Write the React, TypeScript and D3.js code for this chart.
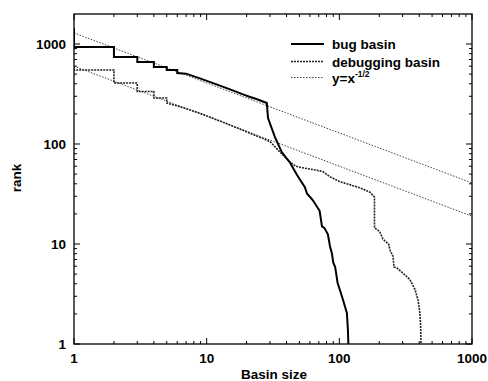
import React from "react";
import * as d3 from "d3";

// Bug basin: (size, rank) points of the stepped rank curve
const bugSize = [1, 1, 2, 2, 3, 3, 4, 4, 5, 5, 6, 6, 7, 9, 12, 15, 19, 21, 24, 28.4, 29, 32.7, 36.8, 42.5, 48, 50, 55, 57, 63, 71, 74, 77, 82, 85, 88, 90, 93, 97, 105, 114, 116, 117];
const bugRank = [1445, 933, 933, 741, 741, 660, 660, 589, 589, 550, 550, 513, 505, 450, 392, 352, 312, 297, 280, 257, 182, 117, 83, 65, 49, 45, 37, 32, 27.5, 21.5, 15, 14.5, 12.5, 9.5, 8, 6.5, 5.9, 4.1, 2.95, 2.04, 1.4, 1];

// Debugging basin
const dbgSize = [1, 1, 2, 2, 3, 3, 4, 4, 5, 5, 6.3, 9, 15, 22.5, 30, 35.7, 42.5, 47, 52, 66, 75, 85, 101, 143, 170, 184, 184, 202, 213, 235, 241, 254, 258, 272, 302, 341, 372, 392, 405, 410, 413];
const dbgRank = [600, 550, 550, 407, 407, 335, 335, 288, 288, 257, 236, 202, 155, 124, 106, 83, 66, 60, 58, 55, 53, 47, 42, 36.5, 33, 29.5, 14.6, 13.2, 11.2, 10, 8.7, 7.5, 5.9, 5.75, 5.1, 4.4, 3.5, 2.75, 2.04, 1.5, 1];

// Reference lines y = c * x^(-1/2)
const refCoefs = [1290, 600];
const refExponent = -0.5;

const xTickLabels = ["1", "10", "100", "1000"];
const yTickLabels = ["1", "10", "100", "1000"];
const legendLabels = ["bug basin", "debugging basin"];

const W = 488, H = 381;
const L = 74, R = 472, T = 14, B = 344;
const FONT = "Liberation Sans, Arial, Helvetica, sans-serif";
const FS = 13.5;

export default function App() {
  const x = d3.scaleLog().domain([1, 1000]).range([L, R]);
  const y = d3.scaleLog().domain([1, Math.pow(10, 3.3)]).range([B, T]);

  const line = d3.line<[number, number]>().x(d => x(d[0])).y(d => y(d[1]));
  const bugPts = bugSize.map((s, i) => [s, bugRank[i]] as [number, number]);
  const dbgPts = dbgSize.map((s, i) => [s, dbgRank[i]] as [number, number]);
  const refPaths = refCoefs.map(c =>
    line([1, 1000].map(v => [v, c * Math.pow(v, refExponent)] as [number, number]))
  );

  const xTicks: { v: number; major: boolean }[] = [];
  for (let d = 1; d <= 1000; d *= 10) {
    for (let k = 1; k <= 9; k++) {
      const v = d * k;
      if (v > 1000) break;
      xTicks.push({ v, major: k === 1 });
    }
  }
  const yTicks: { v: number; major: boolean }[] = [];
  for (let d = 1; d <= 1000; d *= 10) {
    for (let k = 1; k <= 9; k++) {
      const v = d * k;
      if (v > Math.pow(10, 3.3)) break;
      yTicks.push({ v, major: k === 1 });
    }
  }

  const legX1 = 291, legX2 = 324, legTX = 332;
  const legY = [44, 61.5, 77.5];

  return (
    <svg width={W} height={H} style={{ position: "absolute", left: 0, top: 0, background: "#fff" }} fontFamily={FONT} fontWeight="bold">
      <defs>
        <clipPath id="plot">
          <rect x={L} y={T} width={R - L} height={B - T} />
        </clipPath>
      </defs>
      <rect x={0} y={0} width={W} height={H} fill="#fff" />
      {/* ticks */}
      {xTicks.map((t, i) => {
        const len = t.major ? 6 : 3;
        const px = x(t.v);
        return (
          <g key={"xt" + i} stroke="#000" strokeWidth={1}>
            <line x1={px} x2={px} y1={B} y2={B - len} />
            <line x1={px} x2={px} y1={T} y2={T + len} />
          </g>
        );
      })}
      {yTicks.map((t, i) => {
        const len = t.major ? 6 : 3;
        const py = y(t.v);
        return (
          <g key={"yt" + i} stroke="#000" strokeWidth={1}>
            <line x1={L} x2={L + len} y1={py} y2={py} />
            <line x1={R} x2={R - len} y1={py} y2={py} />
          </g>
        );
      })}
      {/* reference lines and data */}
      <g clipPath="url(#plot)">
        {refPaths.map((p, i) => (
          <path key={"ref" + i} d={p || ""} fill="none" stroke="#444" strokeWidth={1} strokeDasharray="1.5,1.5" />
        ))}
        <path d={line(dbgPts) || ""} fill="none" stroke="#222" strokeWidth={1.6} strokeDasharray="2,1" />
        <path d={line(bugPts) || ""} fill="none" stroke="#000" strokeWidth={2} />
      </g>
      {/* frame */}
      <rect x={L} y={T} width={R - L} height={B - T} fill="none" stroke="#000" strokeWidth={1.3} />
      {/* tick labels */}
      {xTickLabels.map((lab, i) => (
        <text key={"xl" + i} x={x(Math.pow(10, i))} y={363} textAnchor="middle" fontSize={FS} fill="#000">{lab}</text>
      ))}
      {yTickLabels.map((lab, i) => (
        <text key={"yl" + i} x={66} y={y(Math.pow(10, i)) + 5} textAnchor="end" fontSize={FS} fill="#000">{lab}</text>
      ))}
      {/* axis titles */}
      <text x={274} y={379} textAnchor="middle" fontSize={FS} fill="#000">Basin size</text>
      <text transform="translate(21,178) rotate(-90)" textAnchor="middle" fontSize={FS} fill="#000">rank</text>
      {/* legend */}
      <line x1={legX1} x2={legX2} y1={legY[0]} y2={legY[0]} stroke="#000" strokeWidth={2} />
      <line x1={legX1} x2={legX2} y1={legY[1]} y2={legY[1]} stroke="#222" strokeWidth={1.6} strokeDasharray="2,1" />
      <line x1={legX1} x2={legX2} y1={legY[2]} y2={legY[2]} stroke="#444" strokeWidth={1} strokeDasharray="1.5,1.5" />
      <text x={legTX} y={legY[0] + 5} fontSize={FS} fill="#000">{legendLabels[0]}</text>
      <text x={legTX} y={legY[1] + 5} fontSize={FS} fill="#000">{legendLabels[1]}</text>
      <text x={legTX} y={legY[2] + 5} fontSize={FS} fill="#000">
        y=x<tspan dy={-6} fontSize={8.5}>-1/2</tspan>
      </text>
    </svg>
  );
}
